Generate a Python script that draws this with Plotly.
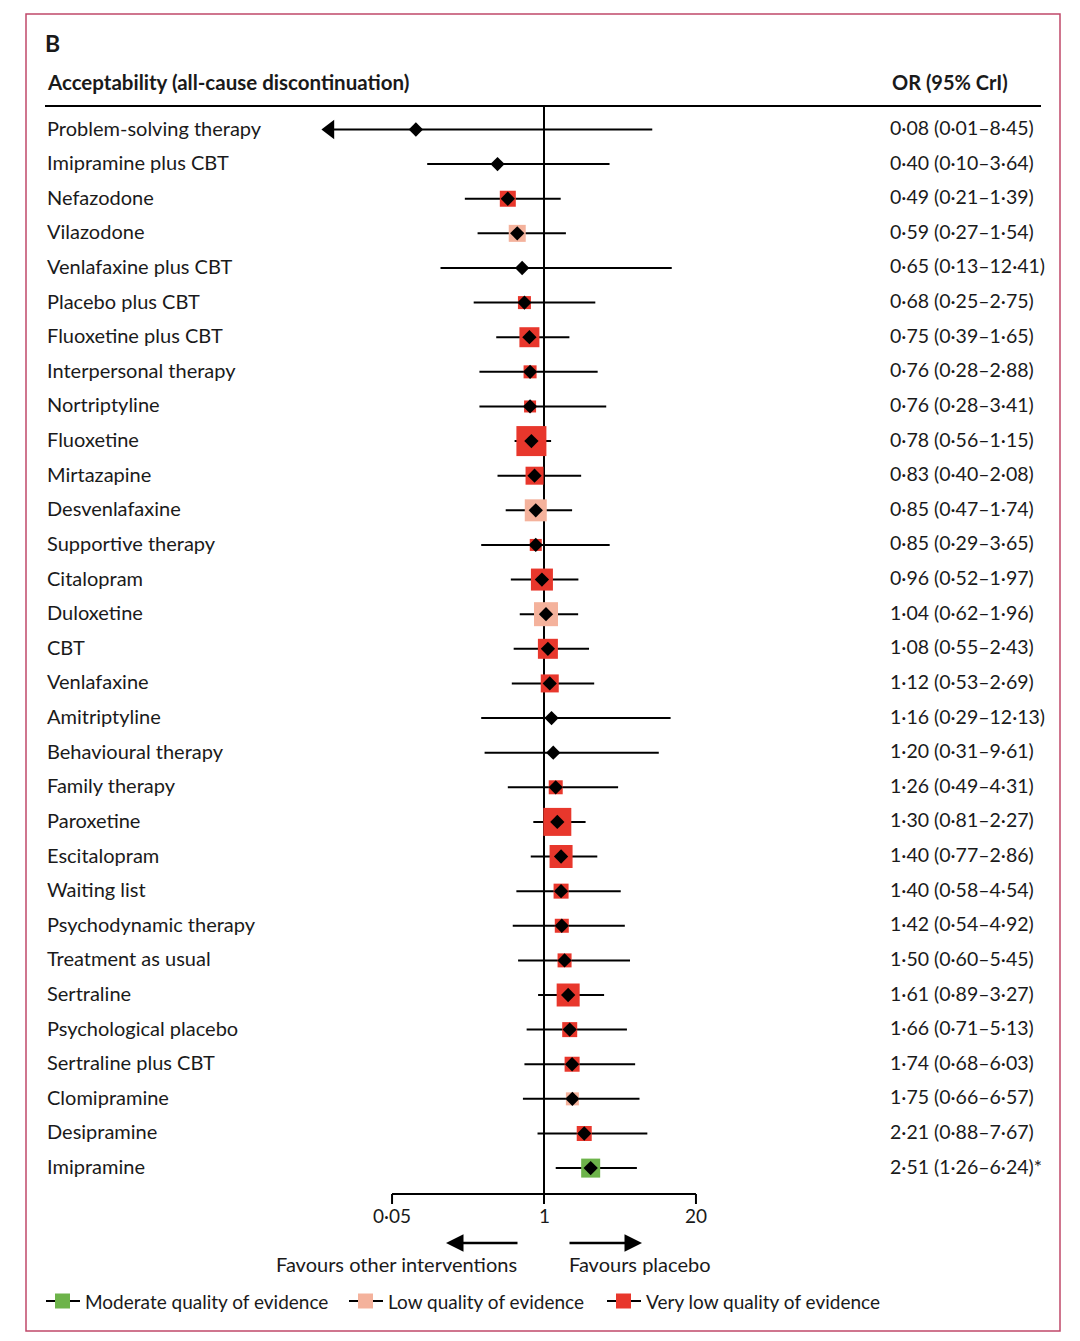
import math
import plotly.graph_objects as go

# ---------------- data ----------------
names = [
    "Problem-solving therapy", "Imipramine plus CBT", "Nefazodone", "Vilazodone",
    "Venlafaxine plus CBT", "Placebo plus CBT", "Fluoxetine plus CBT", "Interpersonal therapy",
    "Nortriptyline", "Fluoxetine", "Mirtazapine", "Desvenlafaxine", "Supportive therapy",
    "Citalopram", "Duloxetine", "CBT", "Venlafaxine", "Amitriptyline", "Behavioural therapy",
    "Family therapy", "Paroxetine", "Escitalopram", "Waiting list", "Psychodynamic therapy",
    "Treatment as usual", "Sertraline", "Psychological placebo", "Sertraline plus CBT",
    "Clomipramine", "Desipramine", "Imipramine",
]
odds = [0.08, 0.40, 0.49, 0.59, 0.65, 0.68, 0.75, 0.76, 0.76, 0.78, 0.83, 0.85, 0.85,
        0.96, 1.04, 1.08, 1.12, 1.16, 1.20, 1.26, 1.30, 1.40, 1.40, 1.42, 1.50, 1.61,
        1.66, 1.74, 1.75, 2.21, 2.51]
lo = [0.01, 0.10, 0.21, 0.27, 0.13, 0.25, 0.39, 0.28, 0.28, 0.56, 0.40, 0.47, 0.29,
      0.52, 0.62, 0.55, 0.53, 0.29, 0.31, 0.49, 0.81, 0.77, 0.58, 0.54, 0.60, 0.89,
      0.71, 0.68, 0.66, 0.88, 1.26]
hi = [8.45, 3.64, 1.39, 1.54, 12.41, 2.75, 1.65, 2.88, 3.41, 1.15, 2.08, 1.74, 3.65,
      1.97, 1.96, 2.43, 2.69, 12.13, 9.61, 4.31, 2.27, 2.86, 4.54, 4.92, 5.45, 3.27,
      5.13, 6.03, 6.57, 7.67, 6.24]
quality = ["low", "very low", "very low", "low", "very low", "very low", "very low",
           "very low", "very low", "very low", "very low", "low", "very low", "very low",
           "low", "very low", "very low", "very low", "very low", "very low", "very low",
           "very low", "very low", "very low", "very low", "very low", "very low",
           "very low", "low", "very low", "moderate"]
# relative weight of each comparison (drawn as the square's side)
weight = [5, 0, 16, 17, 0, 13, 20, 13, 12, 30, 18, 22, 12, 22, 24, 20, 18, 0, 0, 14,
          28, 23, 15, 14, 14, 23, 15, 15, 13, 15, 19]
flag = [""] * 30 + ["*"]
tick_vals = [0.05, 1, 20]
tick_text = ["0·05", "1", "20"]
quality_order = ["moderate", "low", "very low"]
quality_label = {"moderate": "Moderate quality of evidence",
                 "low": "Low quality of evidence",
                 "very low": "Very low quality of evidence"}

# ---------------- layout geometry ----------------
W, H = 1080, 1341
OFF = 8                  # page body margin
PX_PER_DEC = 116.8
X_ONE_PX = 544 - OFF
ROW0, STEP = 129.5 - OFF, 34.62
X_CLIP = 0.0147          # left display limit (arrow shown beyond)

COL = {"moderate": "#6db34a", "low": "#f4b29c", "very low": "#e8372c"}
FONT = "Lato"
TXT = "#1a1a1a"


def row_of(py):
    return (py - OFF - ROW0) / STEP


def pxx(px):
    return (px - OFF) / W


def pxy(py):
    return 1 - (py - OFF) / H


def fmt(v):
    return f"{v:.2f}".replace(".", "·")


x_range = [(0 - X_ONE_PX) / PX_PER_DEC, (W - X_ONE_PX) / PX_PER_DEC]
y_range = [(H - ROW0) / STEP, (0 - ROW0) / STEP]
rows = list(range(len(names)))

fig = go.Figure()

# reference line at OR = 1
fig.add_trace(go.Scatter(x=[1, 1], y=[row_of(106), row_of(1194)], mode="lines",
                         line=dict(color="black", width=2), hoverinfo="skip"))

# credible intervals
for i in rows:
    x0 = max(lo[i], X_CLIP)
    fig.add_trace(go.Scatter(x=[x0, hi[i]], y=[i, i], mode="lines",
                             line=dict(color="black", width=2), hoverinfo="skip"))
    if lo[i] < X_CLIP:
        fig.add_trace(go.Scatter(x=[X_CLIP], y=[i], mode="markers",
                                 marker=dict(symbol="triangle-left", size=17, color="black",
                                             opacity=1),
                                 hoverinfo="skip"))

# squares by quality
for q in quality_order:
    idx = [i for i in rows if quality[i] == q and weight[i] > 0]
    fig.add_trace(go.Scatter(
        x=[odds[i] for i in idx], y=idx, mode="markers",
        marker=dict(symbol="square", size=[weight[i] for i in idx], color=COL[q],
                    opacity=1, line=dict(width=0)),
        hoverinfo="skip"))

# point estimates
fig.add_trace(go.Scatter(x=odds, y=rows, mode="markers",
                         marker=dict(symbol="diamond", size=11, color="black",
                                     opacity=1, line=dict(width=0)),
                         hoverinfo="skip"))

# x axis (drawn)
axis_row = row_of(1194)
fig.add_trace(go.Scatter(x=[tick_vals[0], tick_vals[-1]], y=[axis_row, axis_row],
                         mode="lines", line=dict(color="black", width=2), hoverinfo="skip"))
for t in tick_vals:
    fig.add_trace(go.Scatter(x=[t, t], y=[axis_row, row_of(1204)], mode="lines",
                             line=dict(color="black", width=2), hoverinfo="skip"))

ann = []
for t, lab in zip(tick_vals, tick_text):
    ann.append(dict(x=math.log10(t), y=row_of(1215), xref="x", yref="y", text=lab,
                    showarrow=False, xanchor="center", yanchor="middle",
                    font=dict(size=19, color=TXT, family=FONT)))

# row labels
for i in rows:
    ann.append(dict(x=pxx(45), y=i, xref="paper", yref="y", text=names[i],
                    showarrow=False, xanchor="left", yanchor="middle", yshift=2,
                    font=dict(size=20, color=TXT, family=FONT)))
    ann.append(dict(x=pxx(888), y=i, xref="paper", yref="y",
                    text=f"{fmt(odds[i])} ({fmt(lo[i])}–{fmt(hi[i])}){flag[i]}",
                    showarrow=False, xanchor="left", yanchor="middle", yshift=2,
                    font=dict(size=19.5, color=TXT, family=FONT)))

# headers
ann.append(dict(x=pxx(43), y=pxy(43), xref="paper", yref="paper", text="<b>B</b>",
                showarrow=False, xanchor="left", yanchor="middle",
                font=dict(size=23, color=TXT, family=FONT)))
ann.append(dict(x=pxx(45), y=pxy(82), xref="paper", yref="paper",
                text="<b>Acceptability (all-cause discontinuation)</b>",
                showarrow=False, xanchor="left", yanchor="middle",
                font=dict(size=20.5, color=TXT, family=FONT)))
ann.append(dict(x=pxx(890), y=pxy(82), xref="paper", yref="paper",
                text="<b>OR (95% CrI)</b>",
                showarrow=False, xanchor="left", yanchor="middle",
                font=dict(size=20, color=TXT, family=FONT)))

# favours arrows + text
ann.append(dict(x=pxx(446), y=pxy(1243), xref="paper", yref="paper", text="",
                showarrow=True, ax=73, ay=0, arrowhead=2, arrowsize=1.4, arrowwidth=2.5,
                arrowcolor="black", standoff=0))
ann.append(dict(x=pxx(642), y=pxy(1243), xref="paper", yref="paper", text="",
                showarrow=True, ax=-74, ay=0, arrowhead=2, arrowsize=1.4, arrowwidth=2.5,
                arrowcolor="black", standoff=0))
ann.append(dict(x=pxx(519), y=pxy(1264), xref="paper", yref="paper",
                text="Favours other interventions", showarrow=False,
                xanchor="right", yanchor="middle",
                font=dict(size=20, color=TXT, family=FONT)))
ann.append(dict(x=pxx(567), y=pxy(1264), xref="paper", yref="paper",
                text="Favours placebo", showarrow=False,
                xanchor="left", yanchor="middle",
                font=dict(size=20, color=TXT, family=FONT)))

shapes = []
# header rule
shapes.append(dict(type="line", xref="paper", yref="paper", x0=pxx(45), x1=pxx(1041),
                   y0=pxy(106), y1=pxy(106), line=dict(color="black", width=2)))
# frame
shapes.append(dict(type="rect", xref="paper", yref="paper", x0=pxx(26), x1=pxx(1060),
                   y0=pxy(1331), y1=pxy(14), line=dict(color="#c0486a", width=1.5)))

# legend
leg_x = {"moderate": 46, "low": 349, "very low": 607}
for q in quality_order:
    x0 = leg_x[q]
    shapes.append(dict(type="line", xref="paper", yref="paper", x0=pxx(x0), x1=pxx(x0 + 34),
                       y0=pxy(1301), y1=pxy(1301), line=dict(color="black", width=2)))
    shapes.append(dict(type="rect", xref="paper", yref="paper", x0=pxx(x0 + 9),
                       x1=pxx(x0 + 24), y0=pxy(1308.5), y1=pxy(1293.5),
                       fillcolor=COL[q], line=dict(width=0)))
    ann.append(dict(x=pxx(x0 + 37), y=pxy(1301), xref="paper", yref="paper",
                    text=quality_label[q], showarrow=False, xanchor="left",
                    yanchor="middle", font=dict(size=19, color=TXT, family=FONT)))

fig.update_layout(
    width=W, height=H, margin=dict(l=0, r=0, t=0, b=0),
    paper_bgcolor="white", plot_bgcolor="white", showlegend=False,
    xaxis=dict(type="log", range=x_range, visible=False, fixedrange=True),
    yaxis=dict(range=y_range, visible=False, fixedrange=True),
    annotations=ann, shapes=shapes,
)

fig.write_html("out.html", config={"displayModeBar": False})
